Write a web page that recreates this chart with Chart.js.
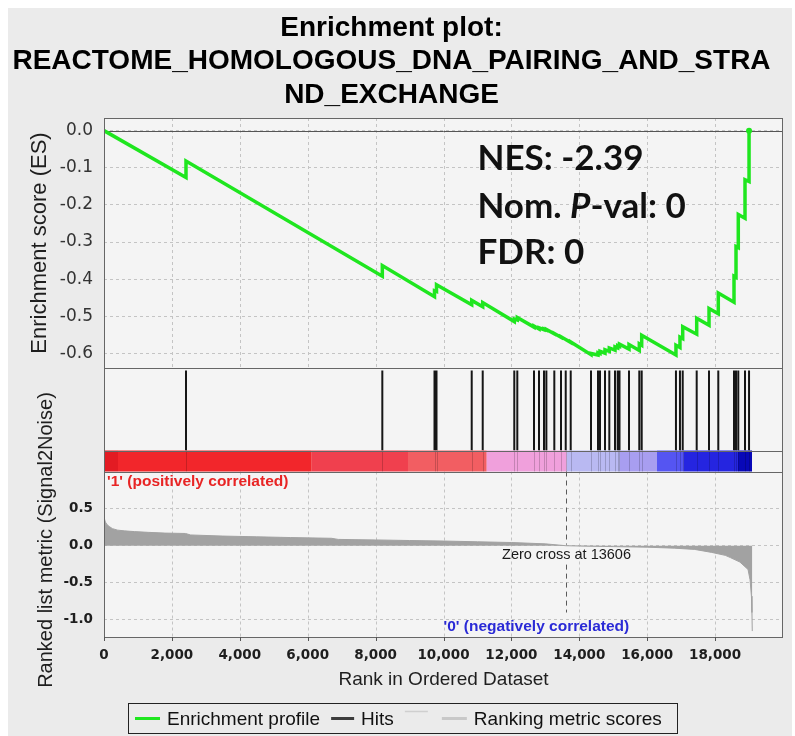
<!DOCTYPE html>
<html><head><meta charset="utf-8">
<script src="https://cdn.jsdelivr.net/npm/chart.js@4.4.1/dist/chart.umd.min.js"></script>
<style>html,body{margin:0;padding:0;background:#fff;}canvas{display:block;}</style>
</head><body>
<canvas id="c" width="795" height="736"></canvas>
<script>
// ---------------- data ----------------
const titleLines = ['Enrichment plot:', 'REACTOME_HOMOLOGOUS_DNA_PAIRING_AND_STRA', 'ND_EXCHANGE'];
const xTicks = [0, 2000, 4000, 6000, 8000, 10000, 12000, 14000, 16000, 18000];
const esTicks = [0, -0.1, -0.2, -0.3, -0.4, -0.5, -0.6];
const metricTicks = [0.5, 0, -0.5, -1.0];
const hitRanks = [2415, 8198, 9735, 9794, 10831, 11155, 12085, 12174, 12666, 12813, 12960, 13030,
  13264, 13461, 13600, 13747, 14345, 14551, 14610, 14757, 14884, 15052, 15131, 15184, 15464,
  15767, 15838, 16847, 16965, 17046, 17458, 17821, 18094, 18557, 18616, 18683, 18881, 19000];
const esRank = [0, 2415, 2415, 8198, 8198, 9735, 9735, 9794, 9794, 10831, 10831, 11155, 11155,
  12085, 12085, 12174, 12174, 12666, 12666, 12813, 12813, 12960, 12960, 13030, 13030, 13264, 13264,
  13461, 13461, 13600, 13600, 13747, 13747, 14345, 14345, 14551, 14551, 14610, 14610, 14757, 14757,
  14884, 14884, 15052, 15052, 15131, 15131, 15184, 15184, 15464, 15464, 15767, 15767, 15838, 15838,
  16847, 16847, 16965, 16965, 17046, 17046, 17458, 17458, 17821, 17821, 18094, 18094, 18557, 18557,
  18616, 18616, 18683, 18683, 18881, 18881, 19000, 19000];
const esScore = [0, -0.126, -0.082, -0.392, -0.363, -0.447, -0.431, -0.433, -0.415, -0.469, -0.457,
  -0.474, -0.463, -0.514, -0.507, -0.510, -0.503, -0.529, -0.526, -0.534, -0.531, -0.536, -0.534,
  -0.537, -0.535, -0.547, -0.546, -0.556, -0.555, -0.562, -0.562, -0.570, -0.569, -0.603, -0.600,
  -0.604, -0.598, -0.600, -0.594, -0.599, -0.590, -0.594, -0.585, -0.591, -0.582, -0.585, -0.579,
  -0.581, -0.575, -0.588, -0.576, -0.592, -0.574, -0.578, -0.551, -0.604, -0.578, -0.584, -0.556,
  -0.560, -0.528, -0.548, -0.505, -0.524, -0.479, -0.493, -0.437, -0.462, -0.392, -0.395, -0.312,
  -0.315, -0.226, -0.236, -0.132, -0.137, 0.0];
const metricRank = [0, 15, 40, 80, 150, 250, 400, 600, 900, 1300, 1800, 2400, 2550, 3500, 4500, 5500,
  6700, 6900, 8000, 9000, 10000, 11000, 12000, 13000, 13606, 14200, 15000, 16000, 16800, 17400,
  17900, 18300, 18450, 18730, 18970, 19030, 19070, 19085, 19095];
const metricValue = [0.39, 0.36, 0.32, 0.29, 0.26, 0.23, 0.21, 0.20, 0.19, 0.18, 0.17, 0.165, 0.145,
  0.13, 0.12, 0.11, 0.10, 0.085, 0.078, 0.07, 0.063, 0.053, 0.043, 0.025, 0.0, -0.006, -0.012,
  -0.02, -0.033, -0.05, -0.09, -0.13, -0.16, -0.22, -0.32, -0.46, -0.68, -0.9, -1.15];
const barEdges = [0, 412, 6118, 8954, 11273, 13629, 15199, 16289, 17084, 18675, 19087];
const barPalette = ['#e31b23', '#f2262b', '#f0404e', '#f25e62', '#f0a0dc', '#b9b9f2', '#a89ef0',
  '#5555f2', '#2525e0', '#0808b8'];
const zeroCross = 13606;
const statNES = 'NES: -2.39';
const statP = ['Nom. ', 'P', '-val: 0'];
const statFDR = 'FDR: 0';
const posLabel = "'1' (positively correlated)";
const negLabel = "'0' (negatively correlated)";
const legendLabels = ['Enrichment profile', 'Hits', '', 'Ranking metric scores'];
const esAxisTitle = 'Enrichment score (ES)';
const rankAxisTitle = 'Ranked list metric (Signal2Noise)';

// ---------------- drawing helpers ----------------
const GREEN = '#1fe61f';
const gsea = {
  id: 'gsea',
  beforeDraw(chart) {
    const {ctx, chartArea: a} = chart;
    ctx.save();
    ctx.fillStyle = '#ffffff'; ctx.fillRect(0, 0, chart.width, chart.height);
    ctx.fillStyle = '#ebebeb'; ctx.fillRect(8, 8, chart.width - 11, chart.height - 8);
    ctx.fillStyle = '#f4f4f4'; ctx.fillRect(a.left, a.top, a.right - a.left, a.bottom - a.top);
    ctx.restore();
  },
  beforeDatasetsDraw(chart) {
    const {ctx, chartArea: a, scales: s} = chart;
    ctx.save();
    ctx.strokeStyle = '#c4c4c4'; ctx.lineWidth = 1; ctx.setLineDash([3, 3]);
    for (const pane of [s.yES, s.yRank]) {
      for (const v of xTicks) {
        if (v === 0) continue;
        const px = Math.round(s.x.getPixelForValue(v)) + 0.5;
        ctx.beginPath(); ctx.moveTo(px, pane.top); ctx.lineTo(px, pane.bottom); ctx.stroke();
      }
    }
    ctx.setLineDash([]);
    const z = Math.round(s.yES.getPixelForValue(0)) + 0.5;
    ctx.strokeStyle = '#555'; ctx.beginPath(); ctx.moveTo(a.left, z); ctx.lineTo(a.right, z); ctx.stroke();
    for (let i = 0; i < barPalette.length; i++) {
      const x0 = s.x.getPixelForValue(barEdges[i]);
      const x1 = s.x.getPixelForValue(barEdges[i + 1]);
      ctx.fillStyle = barPalette[i];
      ctx.fillRect(x0, s.yBar.top, x1 - x0, s.yBar.bottom - s.yBar.top);
    }
    ctx.strokeStyle = 'rgba(0,0,0,0.18)';
    for (const h of hitRanks) {
      const px = Math.round(s.x.getPixelForValue(h)) + 0.5;
      ctx.beginPath(); ctx.moveTo(px, s.yBar.top); ctx.lineTo(px, s.yBar.bottom); ctx.stroke();
    }
    ctx.restore();
  },
  afterDatasetsDraw(chart) {
    const {ctx, chartArea: a, scales: s} = chart;
    ctx.save();
    ctx.strokeStyle = '#666'; ctx.lineWidth = 1;
    for (const p of [s.yES, s.yHits, s.yBar, s.yRank]) {
      ctx.strokeRect(a.left + 0.5, Math.round(p.top) + 0.5, a.right - a.left - 1, Math.round(p.bottom) - Math.round(p.top));
    }
    ctx.strokeStyle = '#555';
    for (const v of xTicks) {
      const px = Math.round(s.x.getPixelForValue(v)) + 0.5;
      ctx.beginPath(); ctx.moveTo(px, a.bottom); ctx.lineTo(px, a.bottom + 4); ctx.stroke();
    }
    const zx = Math.round(s.x.getPixelForValue(zeroCross)) + 0.5;
    const ly = s.yRank.getPixelForValue(-0.12);
    ctx.strokeStyle = '#5a5a5a'; ctx.setLineDash([5, 4]);
    ctx.beginPath(); ctx.moveTo(zx, s.yRank.top); ctx.lineTo(zx, ly - 10);
    ctx.moveTo(zx, ly + 10); ctx.lineTo(zx, s.yRank.getPixelForValue(-0.9)); ctx.stroke();
    ctx.setLineDash([]);
    ctx.font = '14.5px "Liberation Sans"'; ctx.fillStyle = '#1a1a1a';
    ctx.textAlign = 'center'; ctx.textBaseline = 'middle';
    ctx.fillText('Zero cross at ' + zeroCross, zx, ly);
    ctx.font = 'bold 15.5px "Liberation Sans"'; ctx.textAlign = 'left';
    ctx.fillStyle = '#e82424';
    ctx.fillText(posLabel, s.x.getPixelForValue(0) + 3, s.yRank.getPixelForValue(0.865));
    ctx.fillStyle = '#2a2ad6';
    ctx.fillText(negLabel, s.x.getPixelForValue(10000), s.yRank.getPixelForValue(-1.095));
    const sx = s.x.getPixelForValue(11000);
    ctx.fillStyle = '#111'; ctx.textBaseline = 'alphabetic';
    const F = 35;
    ctx.font = 'bold ' + F + 'px Lato';
    ctx.fillText(statNES, sx, s.yES.getPixelForValue(-0.105));
    let px = sx; const py = s.yES.getPixelForValue(-0.234);
    ctx.fillText(statP[0], px, py); px += ctx.measureText(statP[0]).width;
    ctx.font = 'italic bold ' + F + 'px Lato';
    ctx.fillText(statP[1], px, py); px += ctx.measureText(statP[1]).width;
    ctx.font = 'bold ' + F + 'px Lato';
    ctx.fillText(statP[2], px, py);
    ctx.fillText(statFDR, sx, s.yES.getPixelForValue(-0.36));
    ctx.fillStyle = '#1e1e1e'; ctx.textAlign = 'center'; ctx.textBaseline = 'middle';
    ctx.font = '22px "Liberation Sans"';
    ctx.save(); ctx.translate(40, (s.yES.top + s.yES.bottom) / 2); ctx.rotate(-Math.PI / 2);
    ctx.fillText(esAxisTitle, 0, 0); ctx.restore();
    ctx.font = '20px "Liberation Sans"';
    ctx.save(); ctx.translate(46, 540); ctx.rotate(-Math.PI / 2);
    ctx.fillText(rankAxisTitle, 0, 0); ctx.restore();
    const top = 703.5, h = 30, my = top + h / 2;
    ctx.strokeStyle = '#222'; ctx.lineWidth = 1;
    ctx.strokeRect(128.5, top, 549, h);
    ctx.font = '19px "Liberation Sans"'; ctx.textAlign = 'left'; ctx.fillStyle = '#111';
    let lx = 135;
    const seg = (x0, x1, y, col, w) => { ctx.strokeStyle = col; ctx.lineWidth = w; ctx.beginPath(); ctx.moveTo(x0, y); ctx.lineTo(x1, y); ctx.stroke(); };
    seg(lx, lx + 25, my, GREEN, 3); lx += 32;
    ctx.fillText(legendLabels[0], lx, my + 1); lx += ctx.measureText(legendLabels[0]).width + 11;
    seg(lx, lx + 23, my, '#3c3c3c', 3); lx += 30;
    ctx.fillText(legendLabels[1], lx, my + 1); lx += ctx.measureText(legendLabels[1]).width + 11;
    seg(lx, lx + 23, my - 7, '#cfcfcf', 1.5); lx += 37;
    seg(lx, lx + 25, my, '#c8c8c8', 3); lx += 32;
    ctx.fillText(legendLabels[3], lx, my + 1);
    ctx.restore();
  }
};

const fixTicks = arr => (scale) => { scale.ticks = arr.map(v => ({value: v})); };
const yBase = (weight, stackWeight) => ({
  position: 'left', stack: 'g', weight, stackWeight, display: true,
  afterFit: sc => { sc.width = 104; },
  border: {display: false}, grid: {display: false, drawTicks: false},
  ticks: {display: false}
});

new Chart(document.getElementById('c'), {
  type: 'line',
  data: {
    datasets: [
      { label: legendLabels[0], yAxisID: 'yES',
        data: esRank.map((r, i) => ({x: r, y: esScore[i]})),
        borderColor: GREEN, backgroundColor: GREEN, borderWidth: 3.5, tension: 0, fill: false,
        pointRadius: c => (c.dataIndex === esRank.length - 1 ? 3 : 0), pointBorderWidth: 0 },
      { label: legendLabels[1], yAxisID: 'yHits',
        data: hitRanks.flatMap(r => [{x: r, y: 0}, {x: r, y: 1}, {x: r, y: null}]),
        borderColor: '#161616', borderWidth: 2, pointRadius: 0, spanGaps: false, fill: false },
      { label: legendLabels[3], yAxisID: 'yRank',
        data: metricRank.map((r, i) => ({x: r, y: metricValue[i]})),
        borderColor: '#a2a2a2', backgroundColor: '#a2a2a2', borderWidth: 1, pointRadius: 0,
        fill: 'origin', tension: 0 }
    ]
  },
  options: {
    responsive: false, animation: false, devicePixelRatio: 1,
    layout: {padding: {left: 0, right: 12, top: 0, bottom: 43}},
    plugins: {
      legend: {display: false}, tooltip: {enabled: false},
      title: {display: true, text: titleLines, color: '#000',
        font: {family: 'Liberation Sans', size: 28, weight: 'bold', lineHeight: 1.2},
        padding: {top: 11, bottom: 6.2}}
    },
    scales: {
      x: { type: 'linear', min: 0, max: 20000,
        afterBuildTicks: fixTicks(xTicks), afterFit: sc => { sc.height = 56; },
        grid: {display: false, drawTicks: false}, border: {display: false},
        ticks: {padding: 10, maxRotation: 0, autoSkip: false, color: '#1e1e1e',
          font: {family: 'DejaVu Sans', size: 13.5, weight: 'bold'},
          callback: v => Number(v).toLocaleString('en-US')},
        title: {display: true, text: 'Rank in Ordered Dataset', color: '#1e1e1e',
          font: {family: 'Liberation Sans', size: 19}, padding: {top: 0, bottom: 2}} },
      yES: Object.assign(yBase(4, 250), {
        min: -0.639, max: 0.034, afterBuildTicks: fixTicks(esTicks),
        grid: {display: true, drawTicks: false, color: '#c4c4c4'},
        border: {display: false, dash: [3, 3]},
        ticks: {display: true, padding: 11, color: '#333',
          font: {family: 'DejaVu Sans', size: 17}, callback: v => Number(v).toFixed(1)} }),
      yHits: Object.assign(yBase(3, 82.5), {min: 0, max: 1.03}),
      yBar: Object.assign(yBase(2, 21), {min: 0, max: 1}),
      yRank: Object.assign(yBase(1, 165.5), {
        min: -1.23, max: 1.0, afterBuildTicks: fixTicks(metricTicks),
        grid: {display: true, drawTicks: false, color: '#c4c4c4'},
        border: {display: false, dash: [3, 3]},
        ticks: {display: true, padding: 11, color: '#1e1e1e',
          font: {family: 'DejaVu Sans', size: 13.5, weight: 'bold'}, callback: v => Number(v).toFixed(1)} })
    }
  },
  plugins: [gsea]
});
</script>
</body></html>
